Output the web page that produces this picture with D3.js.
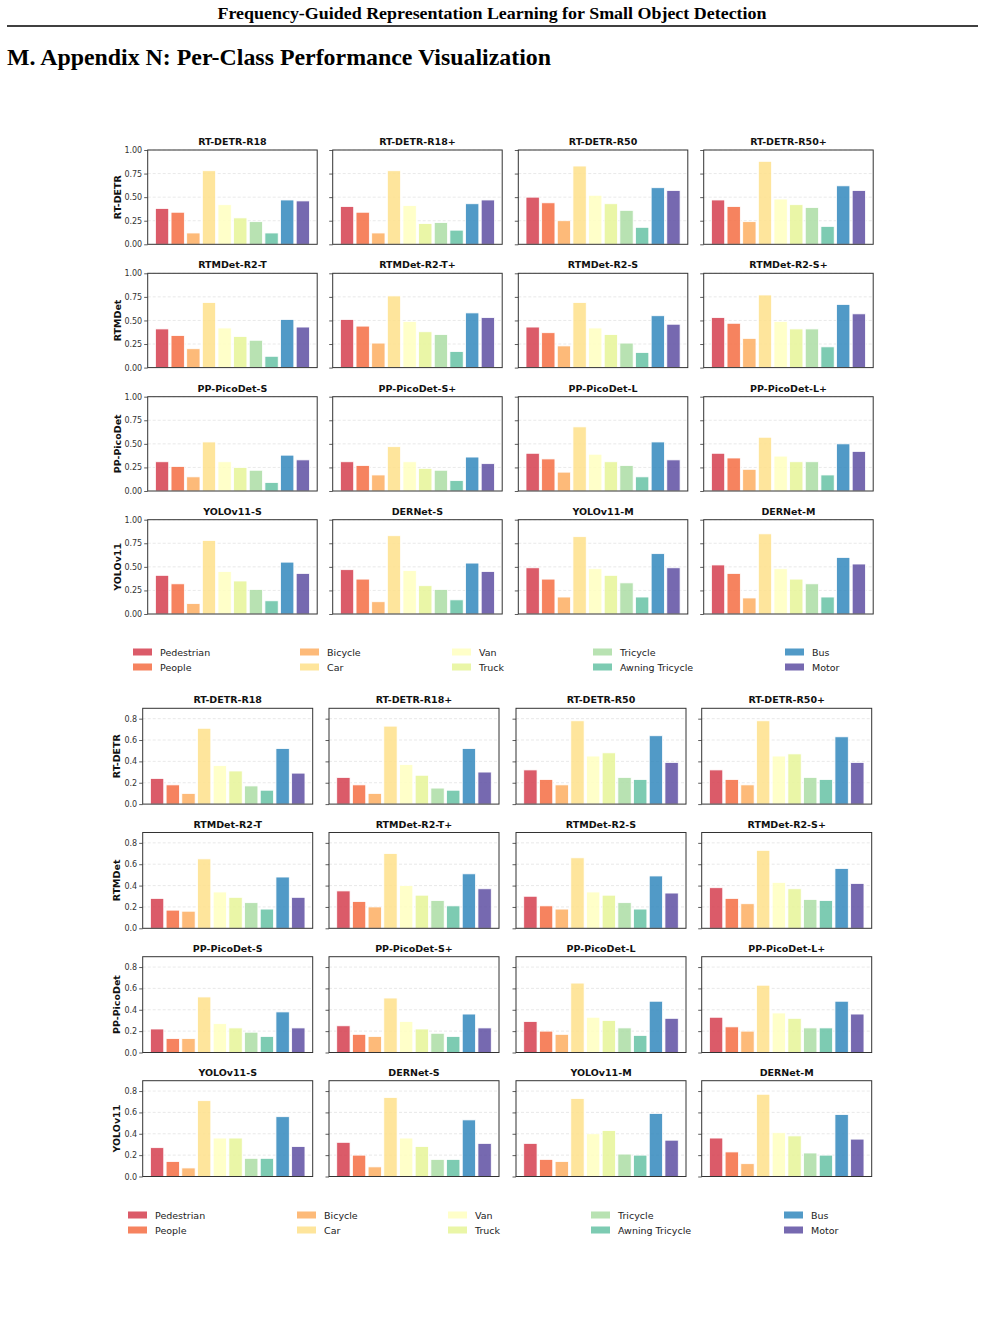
<!DOCTYPE html>
<html>
<head>
<meta charset="utf-8">
<script src="https://cdn.jsdelivr.net/npm/d3@7"></script>
<style>
  body { margin: 0; background: #fff; }
  svg { display: block; }
</style>
</head>
<body>
<svg id="page" width="985" height="1323"></svg>
<script>
// classes and palette (Spectral, 10 colours)
const classes = ["Pedestrian", "People", "Bicycle", "Car", "Van", "Truck", "Tricycle", "Awning Tricycle", "Bus", "Motor"];
const palette = ["#d53e4f", "#f46d43", "#fdae61", "#fee08b", "#ffffbf", "#e6f598", "#abdda4", "#66c2a5", "#3288bd", "#5e4fa2"];

const familyNames = ["RT-DETR", "RTMDet", "PP-PicoDet", "YOLOv11"];
const modelNames = [
    ["RT-DETR-R18", "RT-DETR-R18+", "RT-DETR-R50", "RT-DETR-R50+"],
    ["RTMDet-R2-T", "RTMDet-R2-T+", "RTMDet-R2-S", "RTMDet-R2-S+"],
    ["PP-PicoDet-S", "PP-PicoDet-S+", "PP-PicoDet-L", "PP-PicoDet-L+"],
    ["YOLOv11-S", "DERNet-S", "YOLOv11-M", "DERNet-M"]
];

// upper block (0 - 1 scale)
const topRTDETR = [
    [0.38, 0.34, 0.12, 0.78, 0.42, 0.28, 0.24, 0.12, 0.47, 0.46],
    [0.40, 0.34, 0.12, 0.78, 0.41, 0.22, 0.23, 0.15, 0.43, 0.47],
    [0.50, 0.44, 0.25, 0.83, 0.52, 0.43, 0.36, 0.18, 0.60, 0.57],
    [0.47, 0.40, 0.24, 0.88, 0.48, 0.42, 0.39, 0.19, 0.62, 0.57]
];
const topRTMDet = [
    [0.41, 0.34, 0.20, 0.69, 0.42, 0.33, 0.29, 0.12, 0.51, 0.43],
    [0.51, 0.44, 0.26, 0.76, 0.49, 0.38, 0.35, 0.17, 0.58, 0.53],
    [0.43, 0.37, 0.23, 0.69, 0.42, 0.35, 0.26, 0.16, 0.55, 0.46],
    [0.53, 0.47, 0.31, 0.77, 0.49, 0.41, 0.41, 0.22, 0.67, 0.57]
];
const topPicoDet = [
    [0.31, 0.26, 0.15, 0.52, 0.31, 0.25, 0.22, 0.09, 0.38, 0.33],
    [0.31, 0.27, 0.17, 0.47, 0.31, 0.24, 0.22, 0.11, 0.36, 0.29],
    [0.40, 0.34, 0.20, 0.68, 0.39, 0.31, 0.27, 0.15, 0.52, 0.33],
    [0.40, 0.35, 0.23, 0.57, 0.37, 0.31, 0.31, 0.17, 0.50, 0.42]
];
const topYOLO = [
    [0.41, 0.32, 0.11, 0.78, 0.45, 0.35, 0.26, 0.14, 0.55, 0.43],
    [0.47, 0.37, 0.13, 0.83, 0.46, 0.30, 0.26, 0.15, 0.54, 0.45],
    [0.49, 0.37, 0.18, 0.82, 0.48, 0.41, 0.33, 0.18, 0.64, 0.49],
    [0.52, 0.43, 0.17, 0.85, 0.48, 0.37, 0.32, 0.18, 0.60, 0.53]
];

// lower block (0 - 0.9 scale)
const botRTDETR = [
    [0.24, 0.18, 0.10, 0.71, 0.36, 0.31, 0.17, 0.13, 0.52, 0.29],
    [0.25, 0.18, 0.10, 0.73, 0.37, 0.27, 0.15, 0.13, 0.52, 0.30],
    [0.32, 0.23, 0.18, 0.78, 0.45, 0.48, 0.25, 0.23, 0.64, 0.39],
    [0.32, 0.23, 0.18, 0.78, 0.45, 0.47, 0.25, 0.23, 0.63, 0.39]
];
const botRTMDet = [
    [0.28, 0.17, 0.16, 0.65, 0.34, 0.29, 0.24, 0.18, 0.48, 0.29],
    [0.35, 0.25, 0.20, 0.70, 0.40, 0.31, 0.26, 0.21, 0.51, 0.37],
    [0.30, 0.21, 0.18, 0.66, 0.34, 0.31, 0.24, 0.18, 0.49, 0.33],
    [0.38, 0.28, 0.23, 0.73, 0.43, 0.37, 0.27, 0.26, 0.56, 0.42]
];
const botPicoDet = [
    [0.22, 0.13, 0.13, 0.52, 0.27, 0.23, 0.19, 0.15, 0.38, 0.23],
    [0.25, 0.17, 0.15, 0.51, 0.29, 0.22, 0.18, 0.15, 0.36, 0.23],
    [0.29, 0.20, 0.17, 0.65, 0.33, 0.30, 0.23, 0.16, 0.48, 0.32],
    [0.33, 0.24, 0.20, 0.63, 0.37, 0.32, 0.23, 0.23, 0.48, 0.36]
];
const botYOLO = [
    [0.27, 0.14, 0.08, 0.71, 0.36, 0.36, 0.17, 0.17, 0.56, 0.28],
    [0.32, 0.20, 0.09, 0.74, 0.36, 0.28, 0.16, 0.16, 0.53, 0.31],
    [0.31, 0.16, 0.14, 0.73, 0.40, 0.43, 0.21, 0.20, 0.59, 0.34],
    [0.36, 0.23, 0.12, 0.77, 0.41, 0.38, 0.22, 0.20, 0.58, 0.35]
];

const topTicks = [0, 0.25, 0.5, 0.75, 1.0];
const botTicks = [0, 0.2, 0.4, 0.6, 0.8];

const svg = d3.select("#page");

// page header
svg.append("text")
    .attr("x", 492).attr("y", 19)
    .attr("text-anchor", "middle")
    .attr("textLength", 549).attr("lengthAdjust", "spacingAndGlyphs")
    .style("font-family", "'Liberation Serif', 'DejaVu Serif', serif")
    .style("font-weight", "bold").style("font-size", "17px")
    .text("Frequency-Guided Representation Learning for Small Object Detection");
svg.append("line")
    .attr("x1", 7).attr("x2", 978).attr("y1", 26).attr("y2", 26)
    .attr("stroke", "#000").attr("stroke-width", 1.6);
svg.append("text")
    .attr("x", 7).attr("y", 65)
    .attr("textLength", 544).attr("lengthAdjust", "spacingAndGlyphs")
    .style("font-family", "'Liberation Serif', 'DejaVu Serif', serif")
    .style("font-weight", "bold").style("font-size", "24px")
    .text("M. Appendix N: Per-Class Performance Visualization");

const x = d3.scaleLinear().domain([-0.9175, 9.9175]);
const barWidth = 0.85;

function drawBlock(cfg) {
    cfg.rows.forEach((rowData, r) => {
        rowData.forEach((vals, c) => {
            const left = cfg.lefts[c], top = cfg.tops[r];
            const xs = x.copy().range([0, cfg.width]);
            const y = d3.scaleLinear().domain([0, cfg.ymax]).range([cfg.height, 0]);
            const g = svg.append("g").attr("transform", `translate(${left},${top})`);

            // grid
            g.selectAll(".grid").data(cfg.ticks.filter(t => t > 0))
                .enter().append("line")
                .attr("x1", 0).attr("x2", cfg.width)
                .attr("y1", d => y(d)).attr("y2", d => y(d))
                .attr("stroke", "#e3e3e3").attr("stroke-width", 0.8)
                .attr("stroke-dasharray", "3,2");

            // bars
            g.selectAll(".bar").data(vals)
                .enter().append("rect")
                .attr("x", (d, i) => xs(i - barWidth / 2))
                .attr("width", xs(barWidth) - xs(0))
                .attr("y", d => y(d))
                .attr("height", d => y(0) - y(d))
                .attr("fill", (d, i) => palette[i])
                .attr("fill-opacity", 0.85)
                .attr("stroke", "#fff").attr("stroke-width", 0.8);

            // y axis
            const axis = d3.axisLeft(y).tickValues(cfg.ticks).tickSize(3.5).tickPadding(2)
                .tickFormat(c === 0 ? d3.format(cfg.fmt) : "");
            const ag = g.append("g").call(axis);
            ag.select(".domain").remove();
            ag.selectAll("line").attr("stroke", "#333").attr("stroke-width", 0.8);
            ag.selectAll("text")
                .style("font-family", "'DejaVu Sans', sans-serif")
                .style("font-size", "8px").attr("fill", "#333");

            // frame
            g.append("rect")
                .attr("width", cfg.width).attr("height", cfg.height)
                .attr("fill", "none").attr("stroke", "#333").attr("stroke-width", 1);

            // title
            g.append("text")
                .attr("x", cfg.width / 2).attr("y", -5)
                .attr("text-anchor", "middle")
                .style("font-family", "'DejaVu Sans', sans-serif")
                .style("font-weight", "bold").style("font-size", "9.5px")
                .attr("fill", "#111")
                .text(modelNames[r][c]);

            if (c === 0) {
                g.append("text")
                    .attr("transform", `translate(${cfg.ylabelX},${cfg.height / 2}) rotate(-90)`)
                    .attr("text-anchor", "middle")
                    .style("font-family", "'DejaVu Sans', sans-serif")
                    .style("font-weight", "bold").style("font-size", "9.5px")
                    .attr("fill", "#111")
                    .text(familyNames[r]);
            }
        });
    });

    // legend, 5 columns x 2 rows
    classes.forEach((name, i) => {
        const col = Math.floor(i / 2), row = i % 2;
        const lx = cfg.legendX[col], ly = cfg.legendY[row];
        svg.append("rect")
            .attr("x", lx).attr("y", ly - 3.5)
            .attr("width", 19).attr("height", 7)
            .attr("fill", palette[i]).attr("fill-opacity", 0.85);
        svg.append("text")
            .attr("x", lx + 27).attr("y", ly + 3.5)
            .style("font-family", "'DejaVu Sans', sans-serif")
            .style("font-size", "9.5px").attr("fill", "#222")
            .text(name);
    });
}

drawBlock({
    rows: [topRTDETR, topRTMDet, topPicoDet, topYOLO],
    lefts: [147.7, 332.7, 518.3, 703.7],
    tops: [150, 273.3, 396.7, 519.7],
    width: 169.5, height: 94.3,
    ymax: 1.0, ticks: topTicks, fmt: ".2f",
    ylabelX: -27,
    legendX: [133, 300, 452, 593, 785],
    legendY: [652, 667]
});

drawBlock({
    rows: [botRTDETR, botRTMDet, botPicoDet, botYOLO],
    lefts: [142.7, 329, 516, 701.7],
    tops: [708.3, 832.5, 956.7, 1080.7],
    width: 170, height: 95.8,
    ymax: 0.897, ticks: botTicks, fmt: ".1f",
    ylabelX: -23,
    legendX: [128, 297, 448, 591, 784],
    legendY: [1215, 1230]
});
</script>
</body>
</html>
